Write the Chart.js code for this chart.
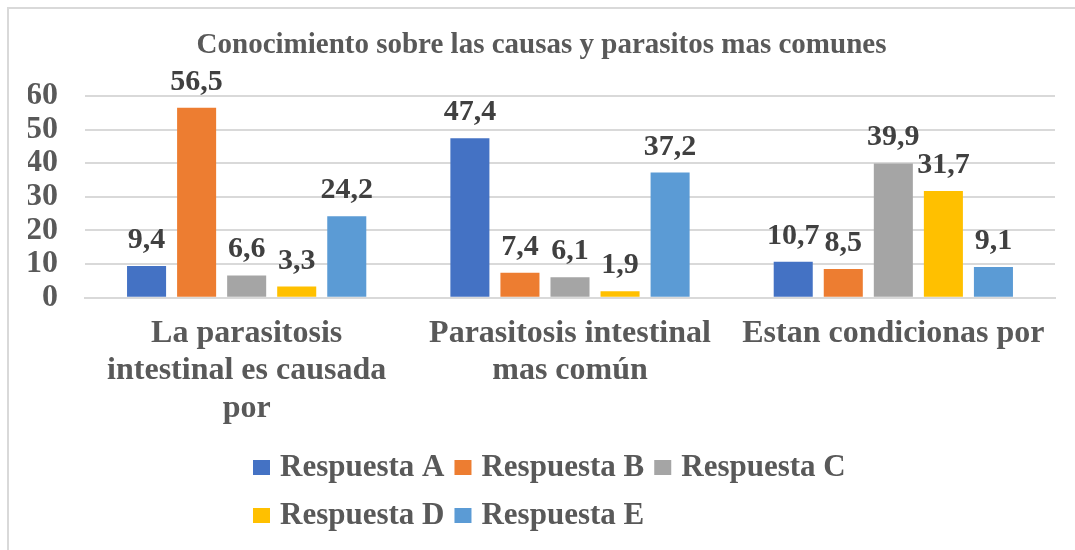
<!DOCTYPE html>
<html>
<head>
<meta charset="utf-8">
<script src="https://cdn.jsdelivr.net/npm/chart.js@4.4.0/dist/chart.umd.min.js"></script>
<style>
  body { margin: 0; background: #fff; overflow: hidden; }
  .wrap { position: relative; width: 1075px; height: 550px; }
  .frame { position: absolute; left: 7px; top: 7px; width: 1100px; height: 600px;
           border-left: 2px solid #d9d9d9; border-top: 2px solid #d9d9d9; }
  canvas { position: absolute; left: 0; top: 0; }
</style>
</head>
<body>
<div class="wrap">
  <div class="frame"></div>
  <canvas id="myChart"></canvas>
</div>
<script>
const categorias = [
  ["La parasitosis", "intestinal es causada", "por"],
  ["Parasitosis intestinal", "mas común"],
  ["Estan condicionas por"]
];
const respuestaA = [9.4, 47.4, 10.7];
const respuestaB = [56.5, 7.4, 8.5];
const respuestaC = [6.6, 6.1, 39.9];
const respuestaD = [3.3, 1.9, 31.7];
const respuestaE = [24.2, 37.2, 9.1];
const nombres = ["Respuesta A", "Respuesta B", "Respuesta C", "Respuesta D", "Respuesta E"];
const colores = ["#4472C4", "#ED7D31", "#A5A5A5", "#FFC000", "#5B9BD5"];
const yTicks = [0, 10, 20, 30, 40, 50, 60];

const fuente = '"Liberation Serif", "Times New Roman", serif';
const ctx = document.getElementById('myChart');

// etiquetas de valor encima de cada barra
const etiquetas = {
  id: 'etiquetas',
  afterDatasetsDraw(chart) {
    const c = chart.ctx;
    c.save();
    c.font = 'bold 30px ' + fuente;
    c.fillStyle = '#404040';
    c.textAlign = 'center';
    c.textBaseline = 'alphabetic';
    chart.data.datasets.forEach((ds, i) => {
      chart.getDatasetMeta(i).data.forEach((bar, j) => {
        c.fillText(ds.data[j].toFixed(1).replace('.', ','), bar.x, bar.y - 18);
      });
    });
    c.restore();
  }
};

// leyenda en dos filas como en el original
const leyenda = {
  id: 'leyenda',
  afterDraw(chart) {
    const c = chart.ctx;
    const filas = [[0, 1, 2], [3, 4]];
    c.save();
    c.font = 'bold 31px ' + fuente;
    c.textBaseline = 'alphabetic';
    c.textAlign = 'left';
    filas.forEach((fila, r) => {
      let x = 253;
      const base = 476 + r * 48;
      fila.forEach(i => {
        c.fillStyle = colores[i];
        c.fillRect(x, base - 16, 17, 15);
        x += 27;
        c.fillStyle = '#595959';
        c.fillText(nombres[i], x, base);
        x += c.measureText(nombres[i]).width + 10;
      });
    });
    c.restore();
  }
};

const series = [respuestaA, respuestaB, respuestaC, respuestaD, respuestaE];

new Chart(ctx, {
  type: 'bar',
  data: {
    labels: categorias,
    datasets: series.map((d, i) => ({
      label: nombres[i],
      data: d,
      backgroundColor: colores[i],
      borderWidth: 0,
      categoryPercentage: 0.774,
      barPercentage: 0.78
    }))
  },
  options: {
    responsive: true,
    maintainAspectRatio: false,
    animation: false,
    layout: { padding: { left: 28, right: 20, top: 0, bottom: 106 } },
    plugins: {
      legend: { display: false },
      tooltip: { enabled: false },
      title: {
        display: true,
        text: 'Conocimiento sobre las causas y parasitos mas comunes',
        color: '#595959',
        font: { family: fuente, size: 29, weight: 'bold', lineHeight: 1.1 },
        padding: { top: 30, bottom: 34 }
      }
    },
    scales: {
      x: {
        grid: { display: false, drawTicks: false },
        border: { display: true, color: '#d9d9d9', width: 2 },
        ticks: {
          color: '#595959',
          padding: 17,
          maxRotation: 0,
          autoSkip: false,
          font: { family: fuente, size: 32, weight: 'bold', lineHeight: 1.17 }
        }
      },
      y: {
        min: 0,
        max: 60,
        afterBuildTicks(scale) { scale.ticks = yTicks.map(v => ({ value: v })); },
        afterFit(scale) { scale.width = 57; },
        grid: { color: '#d9d9d9', lineWidth: 2, drawTicks: false },
        border: { display: false },
        ticks: {
          color: '#595959',
          padding: 27,
          autoSkip: false,
          font: { family: fuente, size: 32, weight: 'bold' }
        }
      }
    }
  },
  plugins: [etiquetas, leyenda]
});
</script>
</body>
</html>
